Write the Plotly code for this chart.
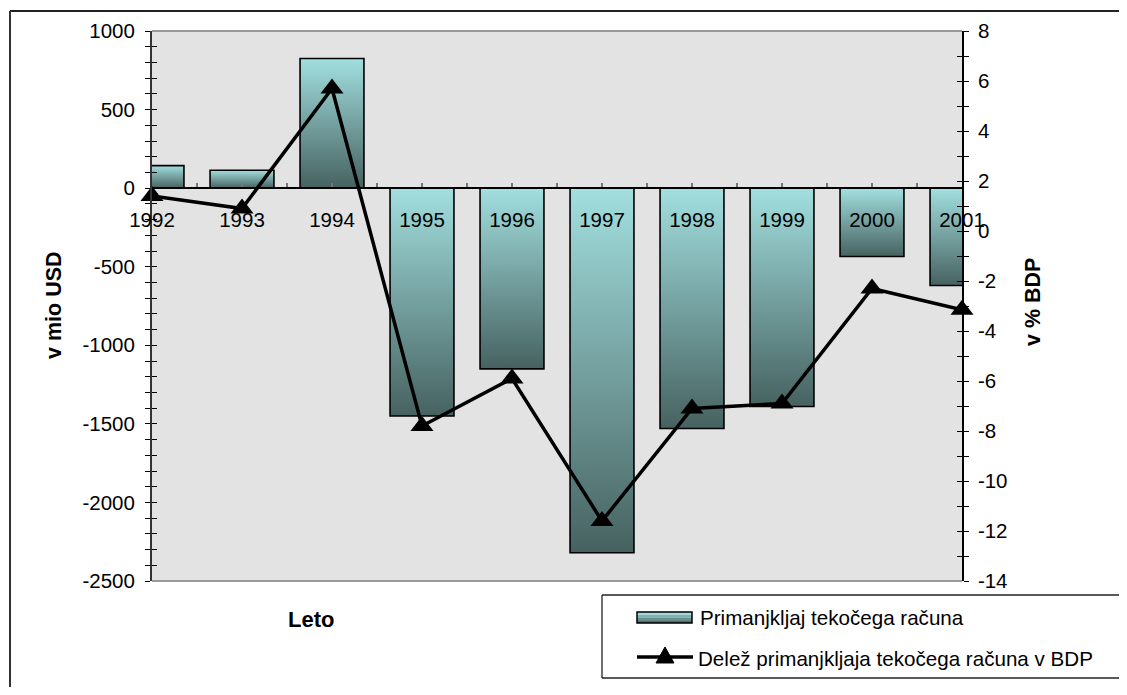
import plotly.graph_objects as go

# ---------------- data ----------------
years = ["1992", "1993", "1994", "1995", "1996", "1997", "1998", "1999", "2000", "2001"]
deficit_usd = [143, 114, 825, -1450, -1150, -2320, -1530, -1390, -435, -620]
share_gdp = [1.4, 0.9, 5.7, -7.8, -5.9, -11.6, -7.1, -6.9, -2.3, -3.15]
left_ticks = [-2500, -2000, -1500, -1000, -500, 0, 500, 1000]
right_ticks = [-14, -12, -10, -8, -6, -4, -2, 0, 2, 4, 6, 8]
bar_name = "Primanjkljaj tekočega računa"
line_name = "Delež primanjkljaja tekočega računa v BDP"

# ---------------- geometry helpers (layout only) ----------------
# page body has an 8px margin on every side; size the figure so the page does not scroll
OFF = 8
WIN_W, WIN_H = 1127, 695
W, H = WIN_W - OFF, WIN_H - 2 * OFF
# plot area in screen pixels
L, R, T, B = 152, 962, 31, 581


def px(x):
    return (x - L) / (R - L)


def py(y):
    return (B - y) / (B - T)


FONT = "Liberation Sans, Arial, sans-serif"
LIGHT = "#a2dfdf"
DARK = "#466260"
BAR_W = 0.71
xs = list(range(len(years)))

fig = go.Figure()

# bars drawn as gradient-filled polygons in data space
for i, v in zip(xs, deficit_usd):
    fig.add_trace(go.Scatter(
        x=[i - BAR_W / 2, i + BAR_W / 2, i + BAR_W / 2, i - BAR_W / 2, i - BAR_W / 2],
        y=[0, 0, v, v, 0],
        mode="lines",
        fill="toself",
        fillgradient=dict(type="vertical", colorscale=[[0, DARK], [1, LIGHT]]),
        line=dict(color="black", width=1.6),
        showlegend=False,
        hoverinfo="skip",
        name=bar_name,
        xaxis="x", yaxis="y",
    ))

# line on secondary axis
fig.add_trace(go.Scatter(
    x=xs, y=share_gdp, mode="lines+markers",
    line=dict(color="black", width=3.5),
    marker=dict(symbol="triangle-up", size=20, color="black"),
    cliponaxis=False, showlegend=False,
    xaxis="x", yaxis="y2", name=line_name,
))

# empty helper traces so the inner-tick overlay axes are drawn
for ax in ("y3", "y4"):
    fig.add_trace(go.Scatter(x=[None], y=[None], xaxis="x", yaxis=ax,
                             showlegend=False, hoverinfo="skip"))

tickfont = dict(family=FONT, size=20.5, color="black")

fig.update_layout(
    width=W, height=H,
    margin=dict(l=L - OFF, r=WIN_W - R, t=T - OFF, b=(OFF + H) - B, pad=0),
    paper_bgcolor="white", plot_bgcolor="#e3e3e3",
    showlegend=False,
    font=dict(family=FONT, size=20, color="black"),
    xaxis=dict(
        range=[0, 9], anchor="free", position=2500 / 3500,
        tickmode="array", tickvals=xs, ticktext=years,
        ticks="inside", ticklen=4, tickcolor="#777", tickwidth=1.5,
        minor=dict(tickmode="array", tickvals=[i + 0.5 for i in xs[:-1]],
                   ticks="inside", ticklen=4, tickcolor="#777", tickwidth=1.5),
        showline=True, linecolor="black", linewidth=1.6,
        showgrid=False, zeroline=False, tickfont=tickfont,
        ticklabelstandoff=13,
    ),
    yaxis=dict(
        range=[-2500, 1000], domain=[0, 1], anchor="x", side="left",
        tickmode="array", tickvals=left_ticks, ticktext=[str(t) for t in left_ticks],
        ticks="outside", ticklen=5, tickcolor="black", tickwidth=1.3,
        minor=dict(dtick=100, tick0=0, ticks="outside", ticklen=5,
                   tickcolor="black", tickwidth=1.3),
        showline=True, linecolor="#333", linewidth=2,
        showgrid=False, zeroline=False, tickfont=tickfont,
        ticklabelstandoff=6,
    ),
    yaxis3=dict(
        range=[-2500, 1000], overlaying="y", anchor="x", side="left",
        tickmode="array", tickvals=left_ticks, showticklabels=False,
        ticks="inside", ticklen=5, tickcolor="black", tickwidth=1.3,
        minor=dict(dtick=100, tick0=0, ticks="inside", ticklen=5,
                   tickcolor="black", tickwidth=1.3),
        showline=False, showgrid=False, zeroline=False,
    ),
    yaxis2=dict(
        range=[-14, 8], overlaying="y", anchor="x", side="right",
        tickmode="array", tickvals=right_ticks, ticktext=[str(t) for t in right_ticks],
        ticks="outside", ticklen=5, tickcolor="black", tickwidth=1.3,
        minor=dict(dtick=1, tick0=0, ticks="outside", ticklen=5,
                   tickcolor="black", tickwidth=1.3),
        showline=True, linecolor="black", linewidth=1.6,
        showgrid=False, zeroline=False, tickfont=tickfont,
        ticklabelstandoff=5,
    ),
    yaxis4=dict(
        range=[-14, 8], overlaying="y", anchor="x", side="right",
        tickmode="array", tickvals=right_ticks, showticklabels=False,
        ticks="inside", ticklen=5, tickcolor="black", tickwidth=1.3,
        minor=dict(dtick=1, tick0=0, ticks="inside", ticklen=5,
                   tickcolor="black", tickwidth=1.3),
        showline=False, showgrid=False, zeroline=False,
    ),
)

shapes = []


def hline(x0, x1, y, color, width):
    return dict(type="line", xref="paper", yref="paper", x0=px(x0), x1=px(x1),
                y0=py(y), y1=py(y), line=dict(color=color, width=width), layer="above")


def vline(x, y0, y1, color, width):
    return dict(type="line", xref="paper", yref="paper", x0=px(x), x1=px(x),
                y0=py(y0), y1=py(y1), line=dict(color=color, width=width), layer="above")


# outer chart frame: only top and left edges fall inside the picture
shapes.append(hline(10, 1140, 11, "#222", 2))
shapes.append(vline(10, 11, 710, "#333", 2))
# plot area top/bottom borders
for yy in (0, 1):
    shapes.append(dict(type="line", xref="paper", yref="paper", x0=0, x1=1, y0=yy, y1=yy,
                       line=dict(color="#999", width=2), layer="below"))
# legend box (runs off the right edge of the picture)
shapes.append(hline(602, 1140, 595, "#222", 1.3))
shapes.append(hline(602, 1140, 678, "#222", 1.3))
shapes.append(vline(602, 595, 678, "#222", 1.3))
# legend bar symbol: banded gradient
bands = ["#9fdcdc", "#7fb4b2", "#62908e", "#4c6a68"]
top, bot = 612, 623
step = (bot - top) / len(bands)
for k, c in enumerate(bands):
    shapes.append(dict(type="rect", xref="paper", yref="paper",
                       x0=px(637), x1=px(692), y0=py(top + (k + 1) * step), y1=py(top + k * step),
                       line=dict(width=0), fillcolor=c, layer="above"))
shapes.append(dict(type="rect", xref="paper", yref="paper",
                   x0=px(637), x1=px(692), y0=py(bot), y1=py(top),
                   line=dict(color="black", width=1.5), fillcolor="rgba(0,0,0,0)", layer="above"))
# legend line symbol
shapes.append(hline(637, 693, 657, "black", 3.5))
tri = "M {:.5f} {:.5f} L {:.5f} {:.5f} L {:.5f} {:.5f} Z".format(
    px(665), py(647), px(674), py(663), px(656), py(663))
shapes.append(dict(type="path", xref="paper", yref="paper", path=tri,
                   fillcolor="black", line=dict(color="black", width=1), layer="above"))
fig.update_layout(shapes=shapes)

annotations = [
    dict(text="<b>v mio USD</b>", x=px(54), y=py(305), textangle=-90, size=21.5),
    dict(text="<b>v % BDP</b>", x=px(1033), y=py(302), textangle=-90, size=21.5),
    dict(text="<b>Leto</b>", x=px(311), y=py(619), size=22),
    dict(text=bar_name, x=px(698), y=py(617), xanchor="left", size=20.6),
    dict(text=line_name, x=px(696), y=py(658), xanchor="left", size=20.6),
]
for a in annotations:
    size = a.pop("size")
    a.update(xref="paper", yref="paper", showarrow=False,
             font=dict(family=FONT, size=size, color="black"))
    a.setdefault("xanchor", "center")
    a["yanchor"] = "middle"
fig.update_layout(annotations=annotations)

fig.write_html("out.html")
